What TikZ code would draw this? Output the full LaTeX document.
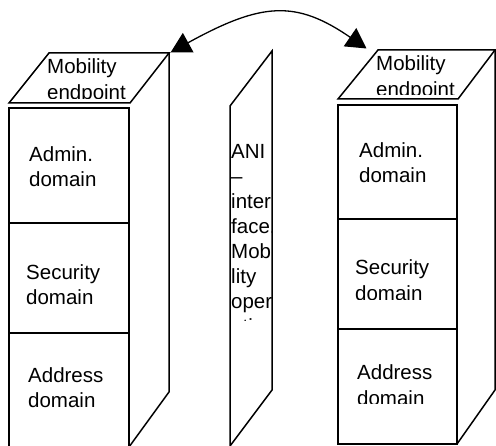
\documentclass[tikz,border=0pt]{standalone}
\usepackage{fontspec}
\setmainfont{Liberation Sans}
\usetikzlibrary{arrows.meta}
\begin{document}
\begin{tikzpicture}[x=1pt,y=-1pt,
  box/.style={line width=1.5pt, line join=miter},
  lbl/.style={anchor=base west, inner sep=0pt, font=\fontsize{20.5}{25}\selectfont},
  link/.style={line width=1.3pt, {Triangle[length=20pt,width=22pt]}-{Triangle[length=20pt,width=22pt]}}]
\useasboundingbox (0,0) rectangle (496,446);

% left cube
\draw[box] (49,53) -- (169,53) -- (130,103) -- (9,103) -- cycle;
\draw[box] (9,108) rectangle (129,448);
\draw[box] (9,223) -- (129,223);
\draw[box] (9,333) -- (129,333);
\draw[box] (169,53) -- (169,392) -- (129,447);

% middle panel
\draw[box] (230,106) -- (272,51) -- (272,390) -- (230,446) -- cycle;

% right cube
\draw[box] (378,50) -- (495,50) -- (458,99) -- (338,99) -- cycle;
\draw[box] (338,105) rectangle (457,444);
\draw[box] (338,219) -- (457,219);
\draw[box] (338,329) -- (457,329);
\draw[box] (495,50) -- (495,390) -- (457,444);

% connector
\coordinate (ltip) at (170.7,52.3);
\coordinate (rtip) at (366.5,48.5);
\draw[link] (ltip) .. controls (262,2) and (296,0) .. (rtip);

% left texts
\node[lbl] (l1) at (47,74) {Mobility};
\begin{scope}
  \clip (0,0) rectangle (496,98.3);
  \node[lbl] (l2) at (47,99.5) {endpoint};
\end{scope}
\node[lbl] (l3) at (29,162) {Admin.};
\node[lbl] (l4) at (29,187) {domain};
\node[lbl] (l5) at (26,280) {Security};
\node[lbl] (l6) at (26,305) {domain};
\node[lbl] (l7) at (28,383) {Address};
\node[lbl] (l8) at (28,408) {domain};

% right texts
\node[lbl] (r1) at (376,71) {Mobility};
\begin{scope}
  \clip (0,0) rectangle (496,95);
  \node[lbl] (r2) at (376,96.5) {endpoint};
\end{scope}
\node[lbl] (r3) at (359,158) {Admin.};
\node[lbl] (r4) at (359,183) {domain};
\node[lbl] (r5) at (355,275) {Security};
\begin{scope}
  \clip (0,0) rectangle (496,299.5);
  \node[lbl] (r6) at (355,301) {domain};
\end{scope}
\node[lbl] (r7) at (357,380) {Address};
\begin{scope}
  \clip (0,0) rectangle (496,404);
  \node[lbl] (r8) at (357,405.5) {domain};
\end{scope}

% middle texts
\begin{scope}
  \clip (229,110) rectangle (271.5,321);
  \node[lbl] (m1) at (231,159) {ANI};
  \node[lbl] (m2) at (231,184) {–};
  \node[lbl] (m3) at (231,209) {inter};
  \node[lbl] (m4) at (231,234) {face.};
  \node[lbl] (m5) at (231,259) {Mobi};
  \node[lbl] (m6) at (231,284) {lity};
  \node[lbl] (m7) at (231,309) {oper};
  \node[lbl] (m8) at (231,334) {ation};
\end{scope}
\end{tikzpicture}
\end{document}
